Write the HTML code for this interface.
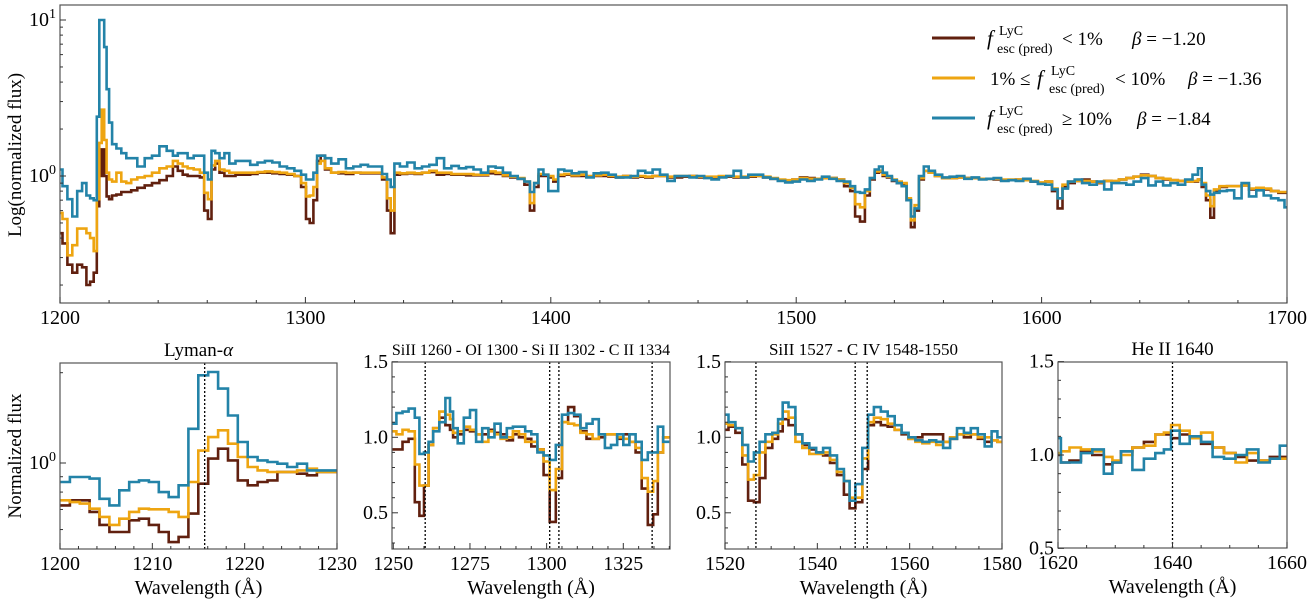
<!DOCTYPE html>
<html><head><meta charset="utf-8"><style>
body{margin:0;background:#fff}
svg{display:block}
svg text{font-family:"Liberation Serif","DejaVu Serif",serif}
</style></head><body>
<svg id="fig" width="1314" height="605" viewBox="0 0 1314 605" xmlns="http://www.w3.org/2000/svg" font-family="Liberation Serif, serif">
<rect width="1314" height="605" fill="#fff"/>
<defs>
<clipPath id="c0"><rect x="60" y="5" width="1227" height="298"/></clipPath>
<clipPath id="c1"><rect x="60" y="363" width="277" height="186"/></clipPath>
<clipPath id="c2"><rect x="392" y="362" width="278" height="187"/></clipPath>
<clipPath id="c3"><rect x="725" y="362" width="277" height="187"/></clipPath>
<clipPath id="c4"><rect x="1058" y="362" width="229" height="186"/></clipPath>
</defs>
<g id="layer"></g>
<g font-size="19">
<line x1="932" y1="38" x2="975" y2="38" stroke="#61200f" stroke-width="3"/>
<line x1="932" y1="78" x2="975" y2="78" stroke="#eea511" stroke-width="3"/>
<line x1="932" y1="118" x2="975" y2="118" stroke="#2383a8" stroke-width="3"/>
<g>
<text x="987" y="45" font-style="italic" font-size="21">f</text><text x="999" y="35" font-size="14">LyC</text><text x="997" y="53" font-size="14">esc (pred)</text>
<text x="1062" y="45">&lt; 1%</text><text x="1132" y="45"><tspan font-style="italic">β</tspan> = −1.20</text></g>
<g>
<text x="990" y="85">1% ≤</text><text x="1037" y="85" font-style="italic" font-size="21">f</text><text x="1051" y="75" font-size="14">LyC</text><text x="1049" y="93" font-size="14">esc (pred)</text>
<text x="1115" y="85">&lt; 10%</text><text x="1188" y="85"><tspan font-style="italic">β</tspan> = −1.36</text></g>
<g>
<text x="987" y="125" font-style="italic" font-size="21">f</text><text x="999" y="115" font-size="14">LyC</text><text x="997" y="133" font-size="14">esc (pred)</text>
<text x="1062" y="125">≥ 10%</text><text x="1137" y="125"><tspan font-style="italic">β</tspan> = −1.84</text></g>
</g>
</svg>
<script>
// ---- top panel data ----
const topWl=[1200,1202,1204,1206,1208,1210,1211.5,1213,1214.5,1215.5,1216.5,1217.5,1218.5,1219.5,1220.5,1222,1224,1226,1228,1230,1233,1236,1239,1242,1245,1247,1249,1251,1253,1256,1258,1259.5,1261,1262.5,1264,1266,1268,1270,1273,1276,1279,1282,1285,1288,1291,1294,1297,1299.5,1301,1302.5,1304,1305.5,1307,1309,1312,1315,1318,1321,1324,1327,1330,1332.5,1334,1335.5,1337,1340,1343,1346,1349,1352,1355,1358,1361,1364,1367,1370,1373,1376,1379,1382,1385,1388,1390.5,1392.5,1394,1396,1398,1400,1402,1404,1407,1410,1413,1416,1419,1422,1425,1428,1431,1434,1437,1440,1443,1446,1449,1452,1455,1458,1461,1464,1467,1470,1473,1476,1479,1482,1485,1488,1491,1494,1497,1500,1503,1506,1509,1512,1515,1518,1521,1523,1525,1527,1529,1531,1533,1534.5,1536,1538,1540,1542,1544,1546,1547.5,1549,1551,1553,1555,1558,1561,1564,1567,1570,1573,1576,1579,1582,1585,1588,1591,1594,1597,1600,1603,1605.5,1607.5,1609.5,1612,1615,1618,1621,1624,1627,1630,1633,1636,1639,1642,1645,1648,1651,1654,1657,1660,1663,1664.5,1666,1668,1669.5,1671,1674,1677,1680,1683,1686,1689,1692,1695,1698,1700];
const topLow=[.43,.37,.27,.24,.27,.26,.20,.21,.24,.64,1.0,1.48,1.0,.74,.71,.75,.76,.79,.79,.81,.84,.87,.90,.94,1.0,1.15,1.08,1.02,1.0,1.0,.98,.60,.53,1.10,1.20,1.05,1.0,1.0,1.02,1.02,1.03,1.05,1.05,1.04,1.03,1.02,1.0,.85,.53,.50,.70,1.25,1.35,1.10,1.05,1.04,1.03,1.05,1.04,1.04,1.04,.95,.60,.43,1.02,1.03,1.04,1.03,1.05,1.06,1.02,1.03,1.02,1.02,1.01,1.01,1.01,1.04,1.03,1.0,.98,.96,.88,.60,.85,1.0,1.0,.98,.92,1.0,1.02,1.0,1.0,.99,1.0,1.0,.99,.98,1.0,.98,.99,.98,1.0,1.0,.98,.98,.99,1.0,.98,.98,.98,.99,.99,.98,.98,.99,1.0,.98,.96,.94,.93,.95,.98,.97,.96,.97,.97,.95,.86,.80,.55,.51,.75,.95,1.05,1.07,1.0,.98,.93,.90,.88,.70,.47,.60,.95,1.08,1.05,1.0,.97,.97,.98,.97,.97,.96,.96,.95,.94,.94,.95,.94,.92,.90,.92,.80,.62,.85,.90,.93,.95,.92,.90,.93,.92,.95,.97,.99,1.02,1.0,.97,.95,.94,.93,.92,.92,.95,.85,.70,.54,.80,.85,.86,.86,.87,.82,.84,.82,.80,.78,.78];
const topMid=[.58,.53,.31,.36,.46,.46,.43,.40,.33,.71,1.63,2.66,1.7,1.05,.95,.92,1.05,.92,.90,.95,.98,1.0,1.05,1.12,1.15,1.25,1.20,1.15,1.12,1.10,1.05,.78,.71,1.17,1.25,1.10,1.08,1.05,1.05,1.05,1.05,1.06,1.07,1.06,1.05,1.03,1.0,.90,.74,.75,.85,1.20,1.25,1.12,1.05,1.06,1.05,1.05,1.05,1.05,1.05,.98,.72,.60,1.05,1.04,1.05,1.04,1.05,1.08,1.05,1.05,1.03,1.03,1.03,1.02,1.02,1.07,1.05,1.01,.99,.97,.92,.67,.90,1.03,1.02,1.0,.95,1.02,1.03,1.01,1.02,1.0,1.01,1.02,1.0,.99,1.0,.99,1.0,.99,1.0,1.0,.99,1.0,1.0,1.0,.99,.99,.99,1.0,1.0,.99,.99,1.0,1.0,.99,.97,.95,.94,.95,.97,.96,.96,.97,.97,.95,.90,.84,.66,.63,.80,.97,1.07,1.08,1.02,.99,.95,.92,.90,.72,.52,.65,.97,1.08,1.05,1.0,.97,.97,.98,.97,.97,.96,.96,.96,.95,.95,.95,.94,.93,.91,.92,.83,.72,.88,.92,.93,.93,.92,.91,.93,.93,.95,.97,.99,1.01,1.0,.97,.96,.94,.93,.92,.93,.95,.90,.75,.64,.82,.86,.86,.86,.87,.83,.84,.83,.80,.79,.79];
const topHigh=[1.10,.86,.71,.55,.80,.90,.75,.72,.70,2.4,10,10,6.7,3.6,2.2,1.6,1.5,1.4,1.3,1.3,1.15,1.30,1.35,1.55,1.45,1.35,1.40,1.40,1.30,1.35,1.35,1.05,.95,1.45,1.40,1.30,1.40,1.20,1.25,1.25,1.18,1.22,1.25,1.22,1.15,1.12,1.08,1.02,.95,.95,1.05,1.35,1.35,1.30,1.20,1.28,1.12,1.15,1.18,1.15,1.15,1.03,.95,.85,1.20,1.15,1.22,1.12,1.15,1.18,1.30,1.12,1.16,1.12,1.14,1.10,1.05,1.15,1.13,1.05,1.0,.96,.92,.79,.90,1.10,1.02,.80,.80,1.10,1.08,1.04,1.06,.98,1.04,1.05,1.02,.98,.98,1.0,1.08,1.05,1.10,1.02,.93,1.0,1.0,.98,1.0,.97,.95,.98,1.0,1.08,.98,1.02,1.02,.98,.96,.93,.91,.92,.95,.93,.95,.99,.96,.93,.92,.86,.79,.78,.82,.97,1.10,1.15,1.05,1.0,.94,.90,.86,.70,.55,.62,1.0,1.15,1.08,1.02,.98,.99,1.0,.96,.98,.95,.96,.97,.93,.94,.93,.96,.92,.89,.88,.82,.72,.83,.92,.95,.90,.88,.92,.82,.90,.90,.88,.92,.97,.87,.92,.87,.90,.88,.95,1.02,1.12,.88,.80,.76,.78,.80,.81,.72,.90,.74,.81,.75,.72,.70,.63];
// ---- Lyman-alpha panel ----
const p1Start=1200, p1Bin=1.07;
const p1Low=[.722,.751,.751,.687,.622,.589,.589,.644,.652,.622,.589,.545,.567,.678,.853,1.034,1.116,1.02,.875,.843,.864,.875,.933,.933,.921,.91,.933,.933];
const p1Mid=[.751,.741,.732,.704,.661,.622,.652,.687,.704,.701,.701,.687,.661,.864,1.10,1.22,1.285,1.16,1.047,.97,.945,.933,.933,.933,.945,.957,.933,.933];
const p1High=[.864,.898,.898,.887,.760,.722,.811,.864,.875,.864,.800,.770,.843,1.30,1.96,2.01,1.77,1.44,1.175,1.047,1.02,1.008,.995,.97,.995,.945,.945,.945];
// ---- SiII/OI/CII panel ----
const p2Wl=[1250,1252,1254,1256,1258,1259,1261,1262,1264,1266,1268,1269,1270,1272,1274,1276,1278,1280,1282,1284,1286,1288,1290,1292,1294,1296,1298,1300,1302,1304,1306,1308,1310,1312,1314,1316,1318,1320,1322,1324,1326,1328,1330,1332,1334,1335.5,1337,1339];
const p2High=[1.09,1.16,1.17,1.19,1.13,.89,.90,.97,1.04,1.10,1.26,1.17,1.06,.96,1.13,1.18,.97,1.06,1.00,1.09,1.00,1.06,1.07,1.07,1.04,1.02,.90,.88,.85,.95,1.15,1.16,1.15,1.06,1.09,1.12,1.02,.93,.95,1.02,.95,1.02,.97,.85,.90,.90,1.07,.97];
const p2Mid=[1.04,1.02,1.05,1.04,.82,.68,.68,.95,1.06,1.17,1.15,1.12,1.03,1.04,1.07,1.05,1.02,.97,1.04,1.02,.99,1.00,1.04,1.02,.97,.97,.92,.84,.65,.79,1.10,1.09,1.08,1.03,1.02,.99,1.02,1.02,1.02,1.00,.99,.97,.93,.73,.64,.71,.90,1.0];
const p2Low=[.92,.92,.97,.99,.57,.48,.68,.95,1.06,1.13,1.08,1.05,1.00,1.02,1.05,1.04,1.02,1.02,1.05,1.03,1.02,.98,1.02,1.00,.99,.94,.92,.75,.44,.73,1.10,1.20,1.14,1.04,.99,.99,1.00,1.02,1.02,.99,1.02,.97,.90,.66,.42,.49,.90,1.0];
const p2Lines=[1260.4,1301.0,1304.0,1334.4];
// ---- SiII/CIV panel ----
const p3Wl=[1520,1521.5,1523,1524.5,1525.5,1527,1528,1529.5,1531,1532,1533,1534.5,1536,1537.5,1539,1540.5,1542,1543.5,1545,1546.5,1547.5,1549,1550.5,1551.5,1553,1554.5,1556,1557.5,1559,1560.5,1562,1563.5,1565,1566.5,1568,1569.5,1571,1572.5,1574,1575.5,1577,1578.5,1579.5];
const p3High=[1.15,1.10,1.06,.95,.84,.90,.97,1.02,1.03,1.12,1.23,1.20,1.02,.96,.93,.90,.93,.88,.79,.71,.58,.69,.93,1.15,1.20,1.17,1.14,1.08,1.03,1.00,.98,.97,.98,.97,.93,.99,1.06,1.03,1.06,1.02,.94,1.04,1.00];
const p3Mid=[1.09,1.08,1.06,.88,.72,.75,.90,.97,1.02,1.09,1.17,1.13,.97,.93,.89,.89,.90,.85,.77,.71,.60,.60,.86,1.10,1.13,1.12,1.09,1.05,1.03,.99,.97,.96,.97,.95,.97,1.00,1.02,1.02,1.02,1.00,1.00,.98,.97];
const p3Low=[1.05,1.07,1.03,.82,.58,.57,.73,.93,.99,1.04,1.12,1.08,1.02,.95,.92,.90,.88,.83,.75,.62,.53,.57,.79,1.08,1.10,1.08,1.07,1.05,1.02,.99,1.00,1.02,1.02,1.02,.97,.99,1.02,1.00,1.02,.99,.97,.98,.97];
const p3Lines=[1526.7,1548.2,1550.8];
// ---- HeII panel ----
const p4Wl=[1620,1621,1623,1625,1627,1629,1630,1632,1634,1636,1638,1639,1640.5,1642,1644,1646,1648,1650,1652,1654,1656,1658,1659.5];
const p4High=[1.09,.96,.96,1.01,1.03,.90,.96,1.02,.92,.98,1.01,1.03,1.13,1.06,1.10,1.07,.99,.98,1.00,1.03,.96,.98,1.05];
const p4Mid=[1.01,1.02,1.04,1.03,1.02,.99,.97,1.00,1.04,1.05,1.11,1.12,1.16,1.13,1.09,1.12,1.04,1.01,.96,1.01,.97,.98,.98];
const p4Low=[1.00,.96,.97,1.02,1.00,.95,.96,1.02,1.04,1.07,1.11,1.11,1.09,1.11,1.10,1.06,1.04,1.01,.99,.97,.97,.99,.99];
const p4Lines=[1640.0];
const colors={low:"#61200f",mid:"#eea511",high:"#2383a8"};

const NS="http://www.w3.org/2000/svg";
const layer=document.getElementById('layer');
function mk(tag,attrs,parent){const e=document.createElementNS(NS,tag);for(const k in attrs)e.setAttribute(k,attrs[k]);(parent||layer).appendChild(e);return e;}
function lin(d0,d1,r0,r1){return v=>r0+(v-d0)*(r1-r0)/(d1-d0);}
function stepPath(wl,vals,xs,ys){
  let d="";
  for(let i=0;i<wl.length;i++){
    const l=i===0?wl[0]-(wl[1]-wl[0])/2:(wl[i-1]+wl[i])/2;
    const r=i===wl.length-1?wl[i]+(wl[i]-wl[i-1])/2:(wl[i]+wl[i+1])/2;
    const y=ys(vals[i]).toFixed(1);
    d+=(i===0?"M":"L")+xs(l).toFixed(1)+","+y+"L"+xs(r).toFixed(1)+","+y;
  }
  return d;
}
function panel(p){
  const g=mk('g',{});
  
  
  const sg=mk('g',{'clip-path':'url(#'+p.clip+')'},g);
  ['low','mid','high'].forEach(k=>{
    const path=mk('path',{d:stepPath(p.wl,p.series[k],p.xs,p.ys),fill:'none',stroke:colors[k],'stroke-width':2.6,'stroke-linejoin':'miter'},sg);
    
    
  });
  (p.lines||[]).forEach(w=>{
    const ln=mk('line',{x1:p.xs(w),x2:p.xs(w),y1:p.y0,y2:p.y1,stroke:'#000','stroke-width':1.3,'stroke-dasharray':'2,2'},g);
    
    
  });
  const fr=mk('rect',{x:p.x0,y:p.y0,width:p.x1-p.x0,height:p.y1-p.y0,fill:'none',stroke:'#555','stroke-width':1.2},g);
  
  
  p.xMajor.forEach(v=>{const x=p.xs(v);mk('line',{x1:x,x2:x,y1:p.y1,y2:p.y1-6,stroke:'#333','stroke-width':1},g);
    const t=mk('text',{x:x,y:p.y1+21,'text-anchor':'middle','font-size':20},g);t.textContent=v;
    });
  p.xMinor.forEach(v=>{const x=p.xs(v);mk('line',{x1:x,x2:x,y1:p.y1,y2:p.y1-3,stroke:'#333','stroke-width':1},g);});
  p.yMajor.forEach(o=>{const y=p.ys(o.v);mk('line',{x1:p.x0,x2:p.x0+6,y1:y,y2:y,stroke:'#333','stroke-width':1},g);
    const t=mk('text',{x:p.x0-4,y:y+6,'text-anchor':'end','font-size':20},g);
    
    if(o.exp!==undefined){t.textContent='10';const s=mk('tspan',{dy:-8,'font-size':14},t);s.textContent=o.exp;t.setAttribute('x',p.x0-4);}
    else t.textContent=o.label;});
  p.yMinor.forEach(v=>{const y=p.ys(v);mk('line',{x1:p.x0,x2:p.x0+3,y1:y,y2:y,stroke:'#333','stroke-width':1},g);});
  if(p.title){const t=mk('text',{x:(p.x0+p.x1)/2,y:p.y0-7,'text-anchor':'middle','font-size':p.titleSize||19},g);t.innerHTML=p.title;
    }
  if(p.xlabel){const t=mk('text',{x:(p.x0+p.x1)/2,y:p.y1+45,'text-anchor':'middle','font-size':20},g);t.textContent=p.xlabel;
    }
}
function range(a,b,s){const r=[];for(let v=a;v<=b+1e-9;v+=s)r.push(+v.toFixed(4));return r;}
const topMinorY=[];[0.1,1].forEach(d=>{for(let m=2;m<=9;m++)topMinorY.push(m*d);});
panel({name:'top-panel',clip:'c0',x0:60,x1:1287,y0:5,y1:303,wl:topWl,series:{low:topLow,mid:topMid,high:topHigh},
  xs:lin(1200,1700,60,1287),ys:v=>176-156*Math.log10(v),
  xMajor:range(1200,1700,100),xMinor:range(1220,1680,20).filter(v=>v%100!==0),
  yMajor:[{v:1,exp:'0'},{v:10,exp:'1'}],yMinor:topMinorY.filter(v=>v>0.16)});
const p1Wl=p1Low.map((_,i)=>p1Start+p1Bin*(i+0.5));
panel({name:'lyman-alpha-panel',clip:'c1',x0:60,x1:337,y0:363,y1:549,wl:p1Wl,series:{low:p1Low,mid:p1Mid,high:p1High},
  xs:lin(1200,1230,60,337),ys:v=>463-300*Math.log10(v),lines:[1215.67],
  xMajor:range(1200,1230,10),xMinor:range(1202,1228,2).filter(v=>v%10!==0),
  yMajor:[{v:1,exp:'0'}],yMinor:[0.6,0.7,0.8,0.9,2],title:'Lyman-<tspan font-style="italic">α</tspan>',xlabel:'Wavelength (Å)'});
panel({name:'si-o-c-panel',clip:'c2',x0:392,x1:670,y0:362,y1:549,wl:p2Wl,series:{low:p2Low,mid:p2Mid,high:p2High},
  xs:lin(1250,1325,393.3,623.3),ys:v=>437.3-151*(v-1),lines:p2Lines,titleSize:16,
  xMajor:range(1250,1325,25),xMinor:range(1255,1340,5).filter(v=>v%25!==0),
  yMajor:[{v:1.5,label:'1.5'},{v:1,label:'1.0'},{v:0.5,label:'0.5'}],yMinor:[0.3,0.4,0.6,0.7,0.8,0.9,1.1,1.2,1.3,1.4],
  title:'SiII 1260 - OI 1300 - Si II 1302 - C II 1334',xlabel:'Wavelength (Å)'});
panel({name:'si-civ-panel',clip:'c3',x0:725,x1:1002,y0:362,y1:549,wl:p3Wl,series:{low:p3Low,mid:p3Mid,high:p3High},
  xs:lin(1520,1580,725,1002),ys:v=>437.3-151*(v-1),lines:p3Lines,titleSize:17,
  xMajor:range(1520,1580,20),xMinor:range(1525,1575,5).filter(v=>v%20!==0),
  yMajor:[{v:1.5,label:'1.5'},{v:1,label:'1.0'},{v:0.5,label:'0.5'}],yMinor:[0.3,0.4,0.6,0.7,0.8,0.9,1.1,1.2,1.3,1.4],
  title:'SiII 1527 - C IV 1548-1550',xlabel:'Wavelength (Å)'});
panel({name:'heii-panel',clip:'c4',x0:1058,x1:1287,y0:362,y1:548,wl:p4Wl,series:{low:p4Low,mid:p4Mid,high:p4High},
  xs:lin(1620,1660,1058,1287),ys:v=>455-186.7*(v-1),lines:p4Lines,
  xMajor:range(1620,1660,20),xMinor:range(1625,1655,5).filter(v=>v%20!==0),
  yMajor:[{v:1.5,label:'1.5'},{v:1,label:'1.0'},{v:0.5,label:'0.5'}],yMinor:[0.6,0.7,0.8,0.9,1.1,1.2,1.3,1.4],
  title:'He II 1640',xlabel:'Wavelength (Å)'});
const yt1=mk('text',{x:0,y:0,'font-size':19,'text-anchor':'middle',transform:'translate(21,155) rotate(-90)'});
yt1.textContent='Log(normalized flux)';


const yt2=mk('text',{x:0,y:0,'font-size':19,'text-anchor':'middle',transform:'translate(21,456) rotate(-90)'});
yt2.textContent='Normalized flux';


</script>
</body></html>
